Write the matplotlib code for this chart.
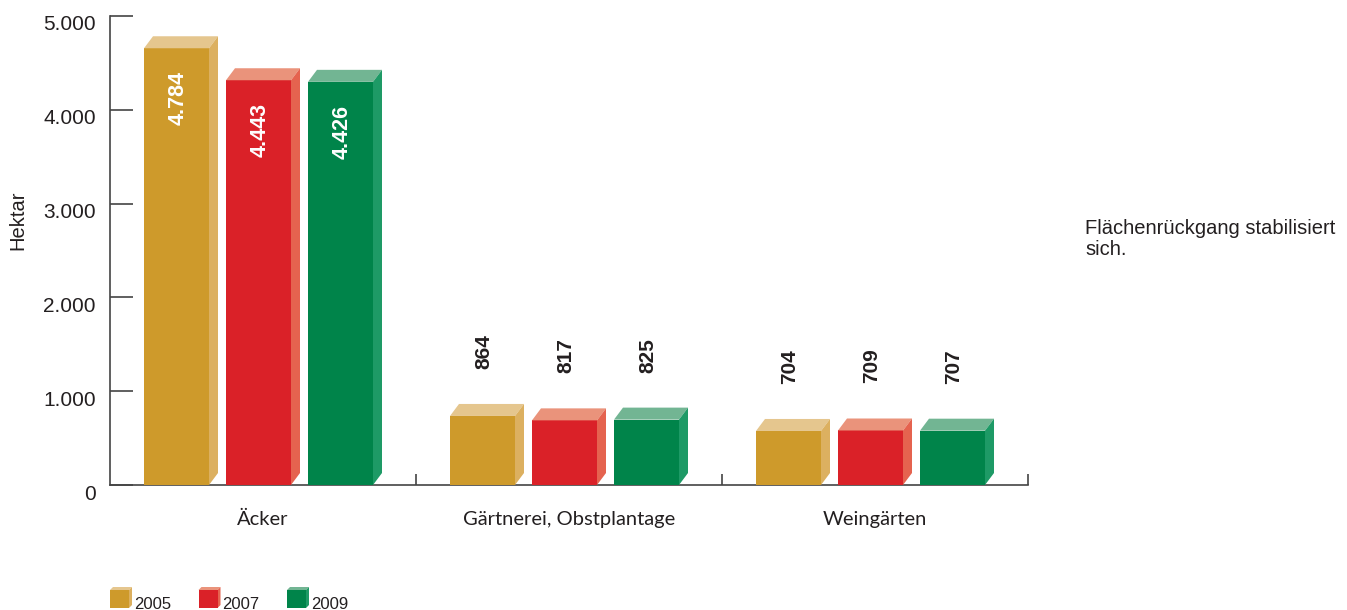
import matplotlib
matplotlib.use("Agg")
import matplotlib.pyplot as plt
from matplotlib.patches import Polygon
from matplotlib.transforms import ScaledTranslation

plt.rcParams['font.family'] = ['Liberation Sans', 'DejaVu Sans']

# Data
categories = ["Äcker", "Gärtnerei, Obstplantage", "Weingärten"]
years = ["2005", "2007", "2009"]
values = {
    "2005": [4784, 864, 704],
    "2007": [4443, 817, 709],
    "2009": [4426, 825, 707],
}
y_ticks = [0, 1000, 2000, 3000, 4000, 5000]
y_tick_labels = ["0", "1.000", "2.000", "3.000", "4.000", "5.000"]

# Face colours: front, top, side
colors = {
    "2005": ("#CE9A2B", "#E5C68E", "#DCB060"),
    "2007": ("#DA2128", "#EA937B", "#E5634F"),
    "2009": ("#00844A", "#72B593", "#1E9A66"),
}

TEXT = "#231F20"
W, H, DPI = 1347, 610, 100
fig = plt.figure(figsize=(W / DPI, H / DPI), dpi=DPI)
ax_l, ax_r, ax_t, ax_b = 110, 1028, 16, 485
ax = fig.add_axes([ax_l / W, 1 - ax_b / H, (ax_r - ax_l) / W, (ax_b - ax_t) / H])
ax.set_xlim(0, 3)
ax.set_ylim(0, 5000)

px_x = 3 / (ax_r - ax_l)      # data units per pixel horizontally
px_y = 5000 / (ax_b - ax_t)   # data units per pixel vertically
dx = 9 * px_x
dy = 12 * px_y
bar_w = 65 * px_x
step = 82 * px_x


def fmt(v):
    return f"{v:,}".replace(",", ".")


def draw_bar(x0, v, cols, inside):
    front, top, side = cols
    ax.add_patch(Polygon([(x0, 0), (x0 + bar_w, 0), (x0 + bar_w, v - dy), (x0, v - dy)],
                         closed=True, facecolor=front, edgecolor="none", zorder=3))
    ax.add_patch(Polygon([(x0, v - dy), (x0 + dx, v), (x0 + bar_w + dx, v), (x0 + bar_w, v - dy)],
                         closed=True, facecolor=top, edgecolor="none", zorder=3))
    ax.add_patch(Polygon([(x0 + bar_w, 0), (x0 + bar_w + dx, dy), (x0 + bar_w + dx, v),
                          (x0 + bar_w, v - dy)],
                         closed=True, facecolor=side, edgecolor="none", zorder=3))
    xc = x0 + bar_w / 2 + 1.5 * px_x
    if inside:
        ax.annotate(fmt(v), (xc, v - dy), xytext=(0, -23 * 0.72), textcoords="offset points",
                    rotation=90, ha="center", va="top", color="white",
                    fontsize=15.5, fontweight="bold", zorder=4)
    else:
        ax.annotate(fmt(v), (xc, v), xytext=(0, 35 * 0.72), textcoords="offset points",
                    rotation=90, ha="center", va="bottom", color=TEXT,
                    fontsize=15, fontweight="bold", zorder=4)


for ci, cat in enumerate(categories):
    for yi, yr in enumerate(years):
        x0 = ci + (34 * px_x) + yi * step
        v = values[yr][ci]
        draw_bar(x0, v, colors[yr], inside=v > 2000)

# Axes styling
axis_col = "#444444"
for s in ("top", "right"):
    ax.spines[s].set_visible(False)
for s in ("left", "bottom"):
    ax.spines[s].set_color(axis_col)
    ax.spines[s].set_linewidth(1.2)

ax.set_yticks(y_ticks)
ax.set_yticklabels(y_tick_labels)
ax.tick_params(axis="y", direction="in", length=23 * 0.72, width=1.2, color=axis_col,
               labelsize=15, labelcolor=TEXT, pad=14 * 0.72)
off = ScaledTranslation(0, -7 / DPI, fig.dpi_scale_trans)
for lab in ax.get_yticklabels():
    lab.set_transform(lab.get_transform() + off)

ax.set_xticks([1, 2, 3])
ax.set_xticklabels([])
ax.tick_params(axis="x", direction="in", length=11 * 0.72, width=1.2, color=axis_col)

for ci, cat in enumerate(categories):
    ax.annotate(cat, (ci + 0.5, 0), xytext=(0, -34 * 0.72), textcoords="offset points",
                ha="center", va="center", fontsize=14.5, color=TEXT,
                family=["Lato", "DejaVu Sans"])

fig.text(18 / W, 1 - 220 / H, "Hektar", rotation=90, ha="center", va="center",
         fontsize=14.5, color=TEXT)

fig.text(1085 / W, 1 - 219 / H, "Flächenrückgang stabilisiert\nsich.", ha="left", va="top",
         fontsize=14.5, color=TEXT, linespacing=1.15)

# Legend drawn in pixel coordinates
lax = fig.add_axes([0, 0, 1, 1], facecolor="none")
lax.set_xlim(0, W)
lax.set_ylim(H, 0)
lax.axis("off")
for i, yr in enumerate(years):
    front, top, side = colors[yr]
    lx = 110 + i * 88.5
    ly0, ly1 = 590, 608
    sw = 19
    ddx, ddy = 3, 3
    lax.add_patch(Polygon([(lx, ly0), (lx + ddx, ly0 - ddy), (lx + sw + ddx, ly0 - ddy), (lx + sw, ly0)],
                          closed=True, facecolor=top, edgecolor="none"))
    lax.add_patch(Polygon([(lx + sw, ly0), (lx + sw + ddx, ly0 - ddy), (lx + sw + ddx, ly1 - ddy), (lx + sw, ly1)],
                          closed=True, facecolor=side, edgecolor="none"))
    lax.add_patch(Polygon([(lx, ly0), (lx + sw, ly0), (lx + sw, ly1), (lx, ly1)],
                          closed=True, facecolor=front, edgecolor="none"))
    lax.text(lx + 24, 609, yr, ha="left", va="baseline", fontsize=12, color=TEXT)

fig.savefig("out.png", dpi=DPI)
